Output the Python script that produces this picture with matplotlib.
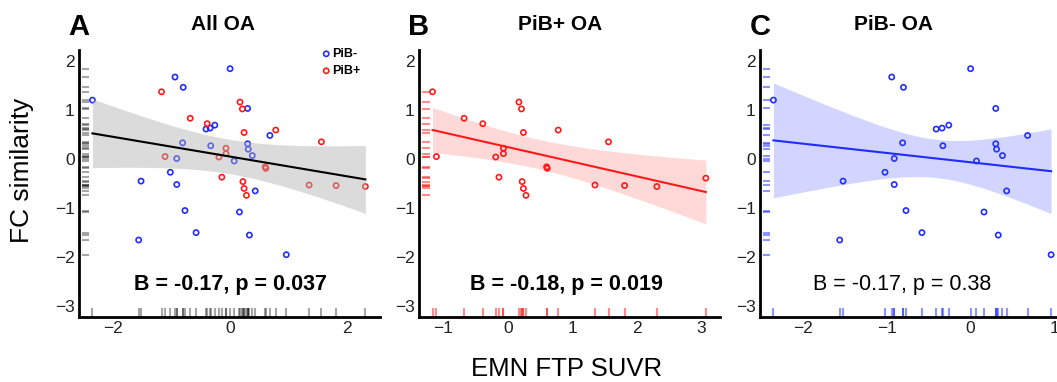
import numpy as np
from matplotlib import pyplot as plt

plt.rcParams['font.family'] = ['Liberation Sans', 'DejaVu Sans']

# PiB- older adults (EMN FTP SUVR, FC similarity)
neg_x = [-2.35, -0.94, -0.80, 0.00, 0.30, -0.41, -0.34, -0.26, 0.68, -0.81,
         -0.33, 0.30, 0.31, 0.38, -0.91, 0.07, -1.02, -1.52, -0.91, 0.43,
         -0.77, 0.16, -0.58, 0.33, -1.56, 0.96]
neg_y = [1.20, 1.67, 1.46, 1.84, 1.03, 0.61, 0.63, 0.69, 0.48, 0.33,
         0.27, 0.31, 0.20, 0.07, 0.01, -0.04, -0.27, -0.45, -0.52, -0.65,
         -1.05, -1.08, -1.50, -1.55, -1.65, -1.95]

# PiB+ older adults
pos_x = [-1.17, -1.11, -0.68, -0.39, 0.17, 0.21, 0.24, 0.78, 1.56, -0.07,
         -0.07, -0.19, 0.60, 0.61, -0.14, 3.07, 0.22, 0.24, 0.28, 1.35,
         1.81, 2.31]
pos_y = [1.37, 0.05, 0.83, 0.72, 1.16, 1.02, 0.54, 0.59, 0.35, 0.22,
         0.11, 0.04, -0.16, -0.19, -0.37, -0.39, -0.46, -0.60, -0.74, -0.53,
         -0.54, -0.56]

stats = ["B = -0.17, p = 0.037", "B = -0.18, p = 0.019", "B = -0.17, p = 0.38"]
titles = ["All OA", "PiB+ OA", "PiB- OA"]
letters = ["A", "B", "C"]

# 95% band of the model fit:
# half width at the narrowest point, growth per unit x, x of narrowest point
band_c0 = [0.35, 0.30, 0.39]
band_c1 = [0.258, 0.218, 0.566]
band_xc = [0.0, 0.43, -0.40]

BLUE = '#1f2dff'
RED = '#ff1a1a'

fig = plt.figure(figsize=(10.57, 3.82), dpi=100)
axA = fig.add_axes([0.0747, 0.170, 0.2848, 0.699])
axB = fig.add_axes([0.3964, 0.170, 0.2848, 0.699])
axC = fig.add_axes([0.7190, 0.170, 0.2810, 0.699])


def panel(ax, groups, xlim, i, line_col, band_col, band_alpha, rug_col, rug_alpha,
          stat_x, bold_stat, title_x):
    allx, ally = [], []
    for gx, gy, col in groups:
        gx = np.asarray(gx); gy = np.asarray(gy)
        keep = (gx >= xlim[0]) & (gx <= xlim[1])
        gx, gy = gx[keep], gy[keep]
        ax.scatter(gx, gy, s=14, facecolors='none', edgecolors=col,
                   linewidths=1.2, zorder=2)
        allx += list(gx); ally += list(gy)
    allx = np.array(allx); ally = np.array(ally)
    xs = np.linspace(allx.min(), allx.max(), 100)
    b, a = np.polyfit(allx, ally, 1)
    fit = a + b * xs
    half = np.sqrt(band_c0[i] ** 2 + band_c1[i] ** 2 * (xs - band_xc[i]) ** 2)
    ax.fill_between(xs, fit - half, fit + half, color=band_col, alpha=band_alpha,
                    lw=0, zorder=3)
    ax.plot(xs, fit, color=line_col, lw=1.5, zorder=4)
    ax.vlines(allx, 0, 0.033, transform=ax.get_xaxis_transform(),
              color=rug_col, alpha=rug_alpha, lw=1.5, zorder=1)
    ax.hlines(ally, 0.01, 0.035, transform=ax.get_yaxis_transform(),
              color=rug_col, alpha=rug_alpha, lw=1.5, zorder=1)

    ax.set_xlim(*xlim)
    ax.set_ylim(-3.22, 2.22)
    ax.set_yticks([-3, -2, -1, 0, 1, 2])
    for s in ['top', 'right']:
        ax.spines[s].set_visible(False)
    for s in ['left', 'bottom']:
        ax.spines[s].set_linewidth(2)
    ax.tick_params(length=0, labelsize=12.5, labelcolor='#222222', pad=3)
    ax.text(stat_x, -2.55, stats[i], ha='center', va='center', fontsize=15.5,
            fontweight='bold' if bold_stat else 'normal')
    ax.text(title_x, 1.075, titles[i], transform=ax.transAxes, ha='center',
            va='baseline', fontsize=15, fontweight='bold')
    ax.text(0.0, 1.056, letters[i], transform=ax.transAxes, ha='center',
            va='baseline', fontsize=21, fontweight='bold')


panel(axA, [(neg_x, neg_y, BLUE), (pos_x, pos_y, RED)], (-2.58, 2.56), 0,
      'black', '#b0b0b0', 0.45, 'black', 0.35, 0.0, True, 0.478)
panel(axB, [(pos_x, pos_y, RED)], (-1.38, 3.29), 1,
      RED, RED, 0.17, RED, 0.5, 0.91, True, 0.468)
panel(axC, [(neg_x, neg_y, BLUE)], (-2.51, 1.03), 2,
      BLUE, '#3344ff', 0.22, BLUE, 0.5, -0.82, False, 0.448)

# legend in panel A
h1 = axA.scatter([], [], s=14, facecolors='none', edgecolors=BLUE, linewidths=1.2)
h2 = axA.scatter([], [], s=14, facecolors='none', edgecolors=RED, linewidths=1.2)
axA.legend([h1, h2], ['PiB-', 'PiB+'], loc='upper right', bbox_to_anchor=(0.965, 1.04),
           frameon=False, handletextpad=0.1, labelspacing=0.4, borderpad=0.2,
           prop={'size': 9, 'weight': 'bold'}, handlelength=0.8)

fig.text(0.021, 0.555, "FC similarity", rotation=90, ha='center', va='center', fontsize=19)
fig.text(0.536, 0.035, "EMN FTP SUVR", ha='center', va='center', fontsize=18.5)

fig.savefig('out.png', dpi=100)
